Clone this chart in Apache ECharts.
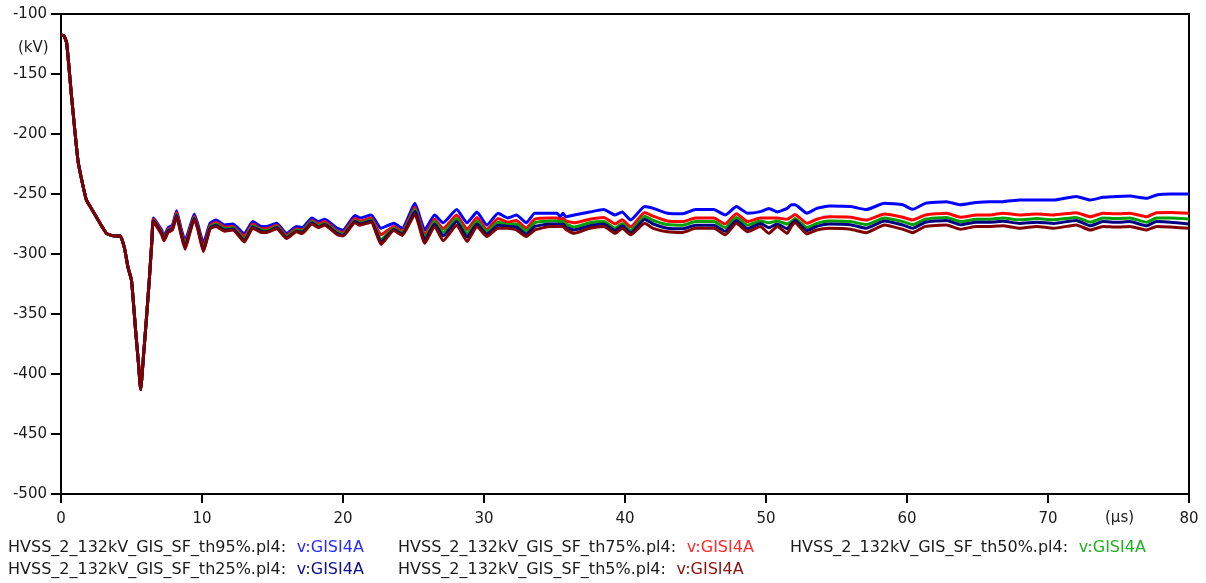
<!DOCTYPE html>
<html>
<head>
<meta charset="utf-8">
<script src="https://cdn.jsdelivr.net/npm/echarts@6/dist/echarts.min.js"></script>
<style>
html,body{margin:0;padding:0;background:#fff;}
#chart{width:1206px;height:583px;}
</style>
</head>
<body>
<div id="chart"></div>
<script>
// Common initial transient (all five curves coincide)
var earlyT = [0, 0.2, 0.4, 0.75, 1.2, 1.5, 1.8, 2.1, 2.5, 2.9, 3.25, 3.8, 4.2, 4.5, 4.75, 5.0, 5.3, 5.5, 5.65, 5.85, 6.05, 6.26, 6.45];
var earlyV = [-117.5, -118, -124, -169, -222, -240, -255, -261, -269, -277, -283, -285, -285, -295, -311, -322, -365, -392, -413, -385, -355, -322, -288];

// Time points (µs) after curves separate
var T = [6.55, 7.14, 7.3, 7.6, 7.9, 8.2, 8.5, 8.8, 9.15, 9.45, 9.7, 10.1, 10.57, 11.0, 11.6, 12.2, 13.0, 13.6, 14.2, 14.6,
  15.3, 16.0, 16.7, 17.1, 17.8, 18.25, 18.7, 19.6, 20.0, 20.85, 21.2, 22.0, 22.7, 23.6, 24.2, 25.1, 25.8, 26.5, 27.1, 28.06,
  28.8, 29.5, 30.2, 31.0, 31.7, 32.3, 33.0, 33.6, 34.7, 35.2, 35.4, 35.6, 35.8, 36.4, 37.5, 38.5, 39.3, 39.8, 40.4, 41.4,
  42.0, 43.0, 44.1, 45.0, 46.3, 47.1, 47.9, 48.7, 49.6, 50.2, 50.8, 51.5, 51.8, 52.06, 52.9, 53.6, 54.5, 56.0, 57.1, 58.4,
  59.7, 60.4, 61.3, 62.8, 63.8, 64.9, 65.9, 66.8, 68.0, 69.2, 70.4, 72.0, 73.0, 73.9, 74.9, 75.8, 77.0, 77.7, 78.7, 80];

var th95 = [-270, -280, -285, -278, -276, -264, -278, -289, -277, -266.7, -275, -291, -274.4, -271.7, -275.8, -275, -283, -273, -277, -277,
  -274.4, -282.8, -277, -278, -270, -273, -271, -278.6, -280, -268, -270, -267.5, -278.6, -274.4, -278.6, -257.8, -280, -267.5, -274, -263,
  -274, -265, -276, -266, -270, -267.5, -274, -266, -266, -266, -269, -266, -269, -267.5, -265, -263, -267.5, -265, -271.7, -260.5,
  -262, -266, -266.5, -263, -263, -267.5, -260.5, -266, -264.7, -262, -265, -262, -259, -259, -266, -262, -260, -260.5, -263, -257.8,
  -259, -262.8, -257.8, -256.4, -259, -257, -256.4, -256.4, -255, -255, -255, -252, -255, -252.8, -252, -251.7, -253.6, -250.8, -250, -250];

var th75 = [-271, -281.5, -286.5, -279.5, -277.5, -265.5, -280, -291.5, -279, -268.5, -277, -294, -276.5, -273.5, -277.5, -277, -285.5, -275, -279, -279,
  -276, -284.5, -279, -280, -272, -275, -273, -281, -282, -270.5, -272.5, -270, -284, -277, -281, -261, -284, -271, -279, -267.5,
  -279.5, -269.5, -279.5, -270.5, -273.5, -272, -278.5, -271, -270, -270, -271.5, -270, -272.5, -274, -271, -269.5, -275, -271.5, -277.5, -265.5,
  -268.5, -272.5, -273, -270, -270, -275, -266.5, -273, -270, -270, -270, -271, -269, -267, -274.4, -271, -269, -269.4, -271.7, -266.7,
  -269.4, -271.7, -267.5, -266, -269.4, -267.5, -267.5, -266, -267.5, -266.7, -267.5, -265.6, -269, -266, -266.5, -266, -269, -265.6, -265.5, -266];

var th50 = [-272, -282.5, -287.5, -280.5, -278.5, -267, -281, -293, -280, -269.5, -278, -295.5, -277.5, -275, -279, -278, -287.5, -276.5, -280, -280.5,
  -277, -285.5, -280, -281, -273, -276.5, -274.5, -282, -283.5, -272, -274, -271.5, -288, -278.5, -282.5, -263, -286.5, -273, -282, -270.5,
  -283, -272.5, -281.5, -273.5, -275.5, -275, -281, -274, -272.5, -272.5, -273.5, -272.5, -275, -277.5, -274, -273, -278.5, -274.5, -280.5, -268.5,
  -272, -275.5, -276, -273, -273, -278, -269.5, -276, -272.5, -274, -272.5, -275, -273, -270.5, -278, -274.5, -272.5, -273, -275.5, -270,
  -273, -275.5, -271, -269.5, -273, -271, -271, -270, -271.5, -270.5, -271.5, -269.5, -273.5, -270, -270.5, -270, -273.5, -270, -270, -270.8];

var th25 = [-272.5, -283, -288, -281, -279, -268, -282, -294.5, -281, -270.5, -278.5, -297, -278.5, -276, -280, -279, -289, -277.5, -281, -281.5,
  -278, -286.5, -281, -282, -274, -277.5, -275.5, -283, -284.5, -273, -275, -272.5, -290, -279.5, -283.5, -264.5, -288.5, -275, -285, -273,
  -286, -275, -283.5, -276, -277, -277.5, -283.5, -277, -275, -275, -275.5, -275, -277.5, -280, -276.5, -275, -280.5, -276.5, -282.5, -271,
  -275, -278.5, -279, -276, -276, -281, -272, -279, -274.5, -278, -275, -279, -275, -272, -280.5, -277, -275, -275.6, -278.5, -272.5,
  -275.8, -278.5, -273.5, -272, -275.6, -273.5, -273.5, -272.8, -274.5, -273.5, -274.5, -272, -276.5, -273, -273.5, -273, -276.5, -273, -273.5, -275];

var th5 = [-273, -284, -289, -282, -280, -269, -283, -296, -282, -271, -279, -298, -279, -277, -281, -280, -290, -278.5, -282, -282,
  -279, -287, -281.5, -283, -275, -278, -276, -284, -285, -274, -276, -273.5, -292, -280.5, -284.5, -267, -291, -277, -289, -276,
  -289.5, -277, -285.5, -278.5, -278.5, -280, -285.5, -280, -277, -277, -277, -277, -279.5, -282.8, -278.6, -277, -282.8, -278.6, -284, -274.4,
  -278.6, -281.4, -282, -278.6, -278.6, -284, -274.4, -281.4, -277, -282.8, -277, -282.8, -277, -273.9, -283.3, -280, -278.6, -279.4, -282.2, -275.8,
  -279.4, -282.2, -277, -275.8, -279.4, -277, -277, -276.5, -278.6, -277, -278.6, -275.8, -280, -277, -277.5, -277, -280, -277, -277.5, -278.6];

var seriesNames = ['th95%', 'th75%', 'th50%', 'th25%', 'th5%'];
var seriesValues = [th95, th75, th50, th25, th5];
var lineColors = ['#0000ff', '#ff0000', '#00a000', '#000080', '#800000'];
var labelColors = ['#2a2aff', '#ff2a2a', '#22b022', '#10108a', '#8a1010'];
var legendFiles = ['HVSS_2_132kV_GIS_SF_th95%.pl4:', 'HVSS_2_132kV_GIS_SF_th75%.pl4:', 'HVSS_2_132kV_GIS_SF_th50%.pl4:',
                   'HVSS_2_132kV_GIS_SF_th25%.pl4:', 'HVSS_2_132kV_GIS_SF_th5%.pl4:'];
var legendChannel = 'v:GISI4A';
var yUnit = '(kV)';
var xUnit = '(\u00b5s)';

var FONT = 'DejaVu Sans';

var series = seriesValues.map(function (vals, k) {
  var data = earlyT.map(function (t, i) { return [t, earlyV[i]]; })
    .concat(T.map(function (t, i) { return [t, vals[i]]; }));
  return {
    name: seriesNames[k],
    type: 'line',
    data: data,
    showSymbol: false,
    symbol: 'none',
    smooth: 0.15,
    lineStyle: { color: lineColors[k], width: 3, join: 'round' },
    itemStyle: { color: lineColors[k] },
    z: 2 + k,
    animation: false
  };
});

// legend placement (text positions only)
var legendPos = [[8, 549], [398, 549], [790, 549], [8, 571], [398, 571]];
var graphics = legendFiles.map(function (f, k) {
  return {
    type: 'text',
    left: legendPos[k][0],
    top: legendPos[k][1] - 9,
    style: {
      text: '{a|' + f + '}  {b|' + legendChannel + '}',
      rich: {
        a: { fill: '#1a1a1a', fontFamily: FONT, fontSize: 16 },
        b: { fill: labelColors[k], fontFamily: FONT, fontSize: 16, padding: [0, 0, 0, 4] }
      }
    }
  };
});
graphics.push({
  type: 'text', left: 18, top: 41,
  style: { text: yUnit, fill: '#1a1a1a', fontFamily: FONT, fontSize: 15 }
});
graphics.push({
  type: 'text', left: 1105, top: 511,
  style: { text: xUnit, fill: '#1a1a1a', fontFamily: FONT, fontSize: 15 }
});

var chart = echarts.init(document.getElementById('chart'), null, { renderer: 'canvas' });
chart.setOption({
  animation: false,
  backgroundColor: '#ffffff',
  grid: { left: 61, top: 14, width: 1128, height: 480, show: true, borderColor: '#000', borderWidth: 2, backgroundColor: 'transparent' },
  xAxis: {
    type: 'value', min: 0, max: 80, interval: 10,
    axisLine: { show: true, onZero: false, lineStyle: { color: '#000', width: 2 } },
    axisTick: { show: true, length: 9, lineStyle: { color: '#000', width: 2 } },
    axisLabel: { color: '#1a1a1a', fontFamily: FONT, fontSize: 15, margin: 18 },
    splitLine: { show: false }
  },
  yAxis: {
    type: 'value', min: -500, max: -100, interval: 50,
    axisLine: { show: true, onZero: false, lineStyle: { color: '#000', width: 2 } },
    axisTick: { show: true, length: 10, lineStyle: { color: '#000', width: 2 } },
    axisLabel: { color: '#1a1a1a', fontFamily: FONT, fontSize: 15, margin: 14 },
    splitLine: { show: false }
  },
  series: series,
  graphic: graphics
});
</script>
</body>
</html>
